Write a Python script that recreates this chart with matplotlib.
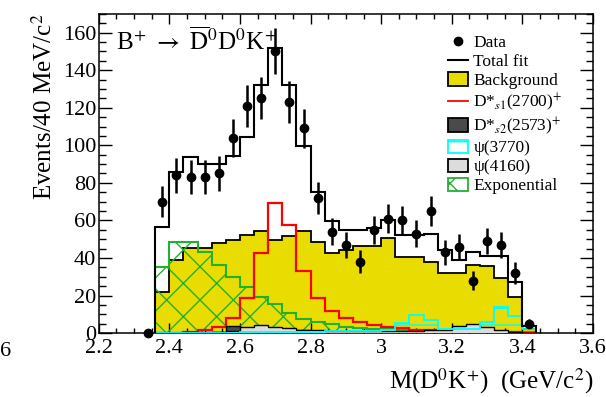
import numpy as np
import matplotlib
matplotlib.use("Agg")
import matplotlib.pyplot as plt
from matplotlib.lines import Line2D
from matplotlib.patches import Patch
from matplotlib.ticker import MultipleLocator

plt.rcParams["font.family"] = ["Liberation Serif", "DejaVu Serif"]
plt.rcParams["mathtext.fontset"] = "stix"
plt.rcParams["hatch.linewidth"] = 1.0

# M(D0K+) data, 40 MeV bins
mass_centers = [2.34, 2.38, 2.42, 2.46, 2.50, 2.54, 2.58, 2.62, 2.66, 2.70, 2.74, 2.78, 2.82, 2.86,
                2.90, 2.94, 2.98, 3.02, 3.06, 3.10, 3.14, 3.18, 3.22, 3.26, 3.30, 3.34, 3.38, 3.42]
data_counts = [0, 70, 84, 83, 83, 85, 104, 121, 125, 150, 123, 109, 72, 54,
               47, 38, 55, 61, 60, 53, 65, 43, 46, 28, 49, 47, 32, 5]

# fit components on bins 2.36 .. 3.44
bin_edges = [2.36, 2.40, 2.44, 2.48, 2.52, 2.56, 2.60, 2.64, 2.68, 2.72, 2.76, 2.80, 2.84, 2.88,
             2.92, 2.96, 3.00, 3.04, 3.08, 3.12, 3.16, 3.20, 3.24, 3.28, 3.32, 3.36, 3.40, 3.44]
total_fit = [56.5, 86, 94, 90, 90, 94.5, 104.7, 132, 152, 132, 99.7, 75, 59.5, 55,
             55, 56, 60, 52.5, 52.5, 53, 44, 39, 43, 41, 41, 27, 4]
background = [22, 39, 45.5, 45.5, 47.8, 49.6, 52.5, 54.6, 49.6, 51.7, 54.6, 48.5, 42.7, 44.4,
              46.4, 46.4, 50.5, 40.4, 40.4, 38, 32, 32, 36.3, 35.5, 29.5, 19.4, 2]
exponential = [35.4, 48.7, 48.5, 43.4, 36.2, 30, 24.5, 19.4, 15.3, 10.6, 7.4, 5.7, 4.8, 3.4,
               2.8, 2.4, 2.0, 1.7, 1.4, 1.2, 1.0, 0.9, 0.8, 0.7, 0.6, 0.5, 0.4]
ds1_2700 = [0.1, 0.2, 0.5, 1.5, 3.5, 8.2, 18.5, 42.5, 69.5, 57.6, 33, 18.8, 11.9, 7.8,
            5.7, 4.3, 3.0, 2.5, 1.9, 1.4, 1.2, 1.0, 0.9, 0.8, 0.7, 0.6, 0.3]
ds2_2573 = [0, 0, 0, 0, 0.6, 3.7, 2.8, 2.4, 2.0, 1.7, 1.4, 1.2, 1.0, 0.9,
            0.8, 0.7, 0.6, 0.5, 0.5, 0.4, 0.4, 0.3, 0.3, 0.3, 0.2, 0.2, 0.1]
psi_3770 = [0.1, 0.1, 0.2, 0.2, 0.3, 0.3, 0.4, 0.5, 0.6, 0.7, 0.8, 0.8, 0.9, 1.0,
            1.0, 1.2, 1.8, 5.2, 9.8, 7.1, 2.2, 2.0, 2.4, 6.0, 13.8, 9.1, 2.3]
psi_4160 = [0.2, 0.3, 0.4, 0.5, 0.6, 1.0, 3.4, 4.3, 3.4, 2.8, 1.9, 1.5, 1.2, 1.0,
            0.9, 0.9, 1.0, 1.2, 1.3, 1.4, 1.8, 4.0, 4.8, 3.5, 1.9, 0.8, 0.3]

YELLOW = "#e8dc00"
GREEN = "#22b030"
DARK = "#4a4a4a"
LIGHT = "#dcdcdc"

fig = plt.figure(figsize=(6.06, 3.97), dpi=100)
ax = fig.add_axes([0.163, 0.161, 0.8155, 0.804])

ax.stairs(background, bin_edges, baseline=0, fill=True, facecolor=YELLOW,
          edgecolor="black", linewidth=1.3, zorder=1)
ax.stairs(exponential, bin_edges, baseline=0, fill=True, facecolor="none",
          edgecolor=GREEN, hatch="x", linewidth=1.5, zorder=2)
ax.stairs(ds1_2700, bin_edges, baseline=0, color="red", linewidth=1.6, zorder=3)
ax.stairs(ds2_2573, bin_edges, baseline=0, fill=True, facecolor=DARK,
          edgecolor="black", linewidth=1.0, zorder=4)
ax.stairs(psi_4160, bin_edges, baseline=0, fill=True, facecolor=LIGHT,
          edgecolor="black", linewidth=1.0, zorder=5)
ax.stairs(psi_3770, bin_edges, baseline=0, fill=True, facecolor="none",
          edgecolor="cyan", hatch="-", linewidth=1.3, zorder=6)
ax.stairs(total_fit, bin_edges, baseline=0, color="black", linewidth=1.5, zorder=7)

counts = np.array(data_counts, dtype=float)
ax.errorbar(mass_centers, counts, yerr=np.sqrt(counts), fmt="o", color="black",
            markersize=6, elinewidth=1.8, capsize=0, zorder=8, clip_on=False)

ax.set_xlim(2.2, 3.6)
ax.set_ylim(0, 170)
ax.xaxis.set_major_locator(MultipleLocator(0.2))
ax.xaxis.set_minor_locator(MultipleLocator(0.05))
ax.yaxis.set_major_locator(MultipleLocator(20))
ax.yaxis.set_minor_locator(MultipleLocator(5))
ax.xaxis.set_major_formatter(plt.FuncFormatter(lambda v, p: f"{v:g}"))
ax.tick_params(which="both", direction="in", top=True, right=True, labelsize=16, width=1.0)
ax.tick_params(axis="x", which="major", length=7, pad=4)
ax.tick_params(axis="x", which="minor", length=3.5)
ax.tick_params(axis="y", which="major", length=9.5, pad=2)
ax.tick_params(axis="y", which="minor", length=5)
for spine in ax.spines.values():
    spine.set_linewidth(1.1)

ax.set_ylabel(r"Events/40 MeV/c$^{2}$", fontsize=18, loc="top", labelpad=4)
ax.set_xlabel(r"M(D$^{0}$K$^{+}$)  (GeV/c$^{2}$)", fontsize=18, loc="right", labelpad=6)

ax.text(0.035, 0.915, r"B$^{+}$ $\rightarrow$ $\overline{\mathrm{D}}^{0}$D$^{0}$K$^{+}$",
        transform=ax.transAxes, fontsize=18, va="center", ha="left")

handles = [
    Line2D([], [], color="black", marker="o", linestyle="none", markersize=6),
    Line2D([], [], color="black", linewidth=1.5),
    Patch(facecolor=YELLOW, edgecolor="black", linewidth=1.3),
    Line2D([], [], color="red", linewidth=1.3),
    Patch(facecolor=DARK, edgecolor="black", linewidth=1.3),
    Patch(facecolor="white", edgecolor="cyan", hatch="-", linewidth=1.3),
    Patch(facecolor=LIGHT, edgecolor="black", linewidth=1.3),
    Patch(facecolor="white", edgecolor=GREEN, hatch="x", linewidth=1.3),
]
labels = ["Data", "Total fit", "Background",
          r"D*$_{s1}$(2700)$^{+}$", r"D*$_{s2}$(2573)$^{+}$",
          "ψ(3770)", "ψ(4160)", "Exponential"]
ax.legend(handles, labels, loc="upper left", bbox_to_anchor=(0.693, 0.958),
          frameon=False, fontsize=12.5, handlelength=1.15, handleheight=0.8,
          handletextpad=0.3, labelspacing=0.135, borderaxespad=0)

# fragment of neighbouring panel's tick label
fig.text(0.0, 0.115, "6", fontsize=16, ha="left", va="center")

fig.savefig("out.png", dpi=100)
